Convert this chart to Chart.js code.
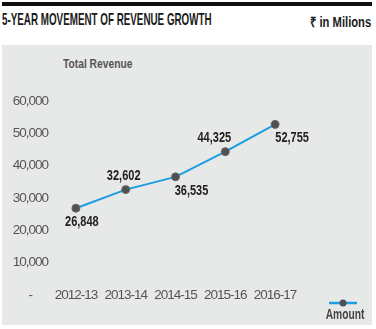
<!DOCTYPE html>
<html>
<head>
<meta charset="utf-8">
<script src="https://cdn.jsdelivr.net/npm/chart.js@4/dist/chart.umd.min.js"></script>
<style>
	body { margin: 0; background: #fff; }
	#quadro { position: relative; width: 376px; height: 329px; overflow: hidden; font-family: "Liberation Sans", Arial, sans-serif; }
	#barra { position: absolute; left: 2px; top: 2px; width: 370px; height: 4px; background: #111; }
	.estreito { position: absolute; white-space: nowrap; font-weight: bold; transform-origin: left top; }
	#titulo { left: 2px; top: 10px; font-size: 17px; color: #1a1a1a; transform: scaleX(0.578); }
	#unidade { left: 310px; top: 12px; font-size: 14px; color: #1a1a1a; transform: scaleX(0.8); }
	#painel { position: absolute; left: 2px; top: 45px; width: 370px; height: 280px; background: #e7e8e8; }
	#subtitulo { left: 63px; top: 56px; font-size: 13px; color: #555; transform: scaleX(0.79); }
	#graficoReceita { position: absolute; left: 0; top: 0; }
</style>
</head>
<body>
<div id="quadro">
	<div id="barra"></div>
	<div id="titulo" class="estreito">5-YEAR MOVEMENT OF REVENUE GROWTH</div>
	<div id="unidade" class="estreito">₹ in Milions</div>
	<div id="painel"></div>
	<div id="subtitulo" class="estreito">Total Revenue</div>
	<canvas id="graficoReceita" width="376" height="329"></canvas>
</div>
<script>
var anos = ['2012-13', '2013-14', '2014-15', '2015-16', '2016-17'];
var valores = [26848, 32602, 36535, 44325, 52755];
var marcasEixoY = [0, 10000, 20000, 30000, 40000, 50000, 60000];

var fonte = '"Liberation Sans", Arial, sans-serif';

// deslocamento de cada rótulo em relação ao ponto (acima / abaixo)
var posRotulos = [[6, 14], [-2, -14], [16, 14], [-11, -14], [17, 14]];

// texto "condensado": escala horizontal em volta do ponto de ancoragem
function textoEstreito(ctx, txt, x, y, escala) {
	ctx.save();
	ctx.translate(x, y);
	ctx.scale(escala, 1);
	ctx.fillText(txt, 0, 0);
	ctx.restore();
}

// as fontes instaladas não têm versão condensada, então aperta o espaçamento
var espacoLetras = {
	id: 'espacoLetras',
	beforeUpdate: function(chart) { chart.ctx.letterSpacing = '-1px'; },
	beforeDraw: function(chart) { chart.ctx.letterSpacing = '-1px'; }
};

var rotulosValores = {
	id: 'rotulosValores',
	afterDatasetsDraw: function(chart) {
		var ctx = chart.ctx;
		var meta = chart.getDatasetMeta(0);
		ctx.save();
		ctx.letterSpacing = '0px';
		ctx.font = 'bold 14.5px ' + fonte;
		ctx.fillStyle = '#222';
		ctx.textAlign = 'center';
		ctx.textBaseline = 'middle';
		meta.data.forEach(function(ponto, i) {
			var txt = valores[i].toLocaleString('en-US');
			textoEstreito(ctx, txt, ponto.x + posRotulos[i][0], ponto.y + posRotulos[i][1], 0.76);
		});
		ctx.restore();
	}
};

// legenda no canto inferior direito: linha com ponto e o nome embaixo
var legendaCanto = {
	id: 'legendaCanto',
	afterDraw: function(chart) {
		var ctx = chart.ctx;
		var ds = chart.data.datasets[0];
		var cx = 343, cy = 303;
		ctx.save();
		ctx.strokeStyle = ds.borderColor;
		ctx.lineWidth = 2.5;
		ctx.beginPath();
		ctx.moveTo(cx - 14, cy);
		ctx.lineTo(cx + 14, cy);
		ctx.stroke();
		ctx.fillStyle = ds.pointBackgroundColor;
		ctx.beginPath();
		ctx.arc(cx, cy, 3.5, 0, Math.PI * 2);
		ctx.fill();
		ctx.letterSpacing = '0px';
		ctx.font = 'bold 14px ' + fonte;
		ctx.fillStyle = '#444';
		ctx.textAlign = 'center';
		ctx.textBaseline = 'middle';
		textoEstreito(ctx, ds.label, cx + 2, cy + 12, 0.73);
		ctx.restore();
	}
};

var grafico = new Chart(document.getElementById('graficoReceita'), {
	type: 'line',
	data: {
		labels: anos,
		datasets: [{
			label: 'Amount',
			data: valores,
			borderColor: '#1b9de2',
			borderWidth: 2,
			pointBackgroundColor: '#505050',
			pointBorderColor: '#6a6a6a',
			pointBorderWidth: 1,
			pointRadius: 4,
			tension: 0
		}]
	},
	options: {
		responsive: false,
		animation: false,
		layout: { padding: { top: 101, right: 76, left: 0, bottom: 0 } },
		plugins: {
			legend: { display: false },
			tooltip: { enabled: false }
		},
		scales: {
			x: {
				offset: true,
				grid: { display: false, drawTicks: false },
				border: { display: false },
				ticks: {
					color: '#555',
					font: { family: fonte, size: 13.5 },
					mirror: true,
					padding: -8,
					autoSkip: false,
					maxRotation: 0
				},
				afterFit: function(escala) { escala.height = 34; }
			},
			y: {
				min: 0,
				max: 60000,
				afterBuildTicks: function(escala) {
					escala.ticks = marcasEixoY.map(function(v) { return { value: v }; });
				},
				grid: { display: false, drawTicks: false },
				border: { display: false },
				ticks: {
					color: '#555',
					font: { family: fonte, size: 13.5 },
					padding: 3,
					crossAlign: 'center',
					callback: function(v) { return v === 0 ? '-' : v.toLocaleString('en-US'); }
				},
				afterFit: function(escala) { escala.width = 51; }
			}
		}
	},
	plugins: [espacoLetras, rotulosValores, legendaCanto]
});
</script>
</body>
</html>
